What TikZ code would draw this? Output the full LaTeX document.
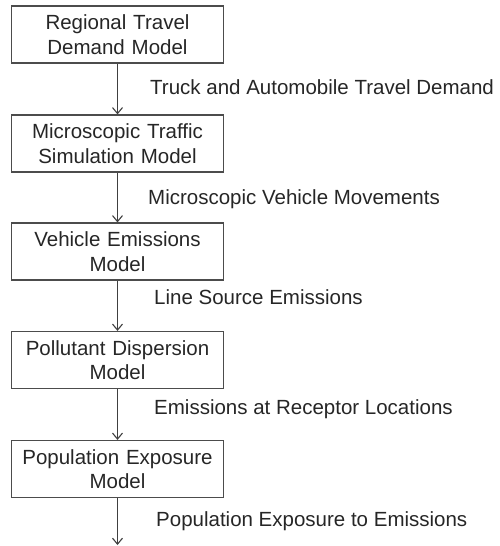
\documentclass[tikz,border=0pt]{standalone}
\usepackage{fontspec}
\setmainfont{Liberation Sans}
\usetikzlibrary{arrows.meta}
\begin{document}
\begin{tikzpicture}[x=1pt,y=-1pt,
  modelbox/.style={draw=black!70,line width=1.2pt,minimum width=212pt,minimum height=57pt,
    text width=205pt,align=center,inner sep=0pt,font=\fontsize{20.5}{24.5}\selectfont,text=black!85},
  flow/.style={draw=black!75,line width=1.1pt,-{Straight Barb[length=6pt,width=10pt,line width=1.1pt]}},
  lbl/.style={anchor=west,inner sep=0pt,font=\fontsize{20.5}{24.5}\selectfont,text=black!85}]
\useasboundingbox (0,0) rectangle (500,546);
\node[modelbox] (m1) at (117.5,34.5) {Regional Travel\\Demand Model};
\node[modelbox] (m2) at (117.5,143.5) {Microscopic Traffic\\Simulation Model};
\node[modelbox] (m3) at (117.5,251.5) {Vehicle Emissions\\Model};
\node[modelbox] (m4) at (117.5,360) {Pollutant Dispersion\\Model};
\node[modelbox] (m5) at (117.5,469) {Population Exposure\\Model};
\coordinate (end) at (117.5,545);
\draw[flow] (m1) -- (m2);
\draw[flow] (m2) -- (m3);
\draw[flow] (m3) -- (m4);
\draw[flow] (m4) -- (m5);
\draw[flow] (m5) -- (end);
\node[lbl] (l1) at (150,87) {Truck and Automobile Travel Demand};
\node[lbl] (l2) at (148,199) {Microscopic Vehicle Movements};
\node[lbl] (l3) at (154,297) {Line Source Emissions};
\node[lbl] (l4) at (154,409) {Emissions at Receptor Locations};
\node[lbl] (l5) at (156,521) {Population Exposure to Emissions};
\end{tikzpicture}
\end{document}
